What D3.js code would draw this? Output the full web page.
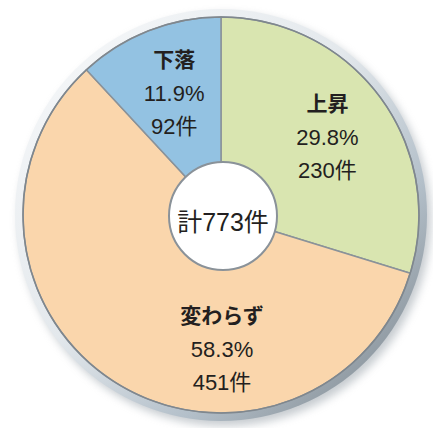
<!DOCTYPE html>
<html>
<head>
<meta charset="utf-8">
<script src="https://cdn.jsdelivr.net/npm/d3@7"></script>
<style>
  html, body { margin: 0; padding: 0; background: #fff; }
  svg { display: block; }
  text { font-family: "Liberation Sans", "Noto Sans CJK JP", sans-serif; fill: #231f20; }
</style>
</head>
<body>
<svg id="chart" width="433" height="428"></svg>
<script>
/* pie of price direction – 上昇 / 変わらず / 下落 */

const categories = ["上昇", "変わらず", "下落"];
const counts     = [230, 451, 92];
const percents   = ["29.8%", "58.3%", "11.9%"];
const totalLabel = "計773件";
const colors     = ["#d9e5b0", "#fad6ac", "#93c2e2"];

const svg = d3.select("#chart");
const cx = 221, cy = 215, R = 198, ringR = 206;

const data = categories.map((c, i) => ({ name: c, count: counts[i], pct: percents[i], color: colors[i] }));

/* -- defs: metallic rim + soft shadow ---------------------------------- */
const defs = svg.append("defs");
const rim = defs.append("linearGradient").attr("id", "rim")
  .attr("x1", 0).attr("y1", 0).attr("x2", 1).attr("y2", 1);
[["0%", "#fafbfc"], ["45%", "#e3e8ec"], ["70%", "#b4c0ca"], ["88%", "#8d979f"], ["100%", "#6c747b"]]
  .forEach(([o, c]) => rim.append("stop").attr("offset", o).attr("stop-color", c));

defs.append("filter").attr("id", "blur")
  .attr("x", "-20%").attr("y", "-20%").attr("width", "140%").attr("height", "140%")
  .append("feGaussianBlur").attr("stdDeviation", 4);

const g = svg.append("g").attr("transform", `translate(${cx},${cy})`);

// shadow under the rim, pushed to lower right
g.append("circle")
  .attr("cx", 4).attr("cy", 5).attr("r", ringR)
  .attr("fill", "#9aa3aa").attr("opacity", 0.55)
  .attr("filter", "url(#blur)");

g.append("circle")
  .attr("r", ringR)
  .attr("fill", "url(#rim)");

/* -- slices -------------------------------------------------------------- */
const pie = d3.pie().value(d => d.count).sort(null);
const arcs = pie(data);
const arc = d3.arc().innerRadius(0).outerRadius(R);

g.selectAll("path.slice")
  .data(arcs)
  .enter().append("path")
    .attr("class", "slice")
    .attr("d", arc)
    .attr("fill", d => d.data.color)
    .attr("stroke", "#8a9299")
    .attr("stroke-width", 1.5)
    .attr("stroke-linejoin", "round");

g.append("circle").attr("r", R)
  .attr("fill", "none").attr("stroke", "#7f878e").attr("stroke-width", 1.5);

/* -- centre hole --------------------------------------------------------- */
g.append("circle")
  .attr("cx", 2).attr("cy", 1).attr("r", 54)
  .attr("fill", "#fff").attr("stroke", "#8a9299").attr("stroke-width", 2);

g.append("text")
  .attr("x", 2).attr("y", 16)
  .attr("text-anchor", "middle")
  .attr("font-size", 25)
  .text(totalLabel);

/* -- labels ------------------------------------------------------------ */
// label angle: slice centroid, except the big slice which sits straight down
const labelAngle = d => d.data.name === "変わらず" ? Math.PI : (d.startAngle + d.endAngle) / 2;
const labelR = d => d.data.name === "変わらず" ? 134 : 131;

const labels = g.selectAll("g.label")
  .data(arcs)
  .enter().append("g")
    .attr("class", "label")
    .attr("transform", d => {
      const a = labelAngle(d), r = labelR(d);
      return `translate(${r * Math.sin(a) + 1},${-r * Math.cos(a)})`;
    })
    .attr("text-anchor", "middle");

labels.append("text")
  .attr("y", -26)
  .attr("font-size", 21)
  .attr("font-weight", "bold")
  .text(d => d.data.name);

labels.append("text")
  .attr("y", 8)
  .attr("font-size", 22)
  .text(d => d.data.pct);

labels.append("text")
  .attr("y", 41)
  .attr("font-size", 22)
  .text(d => d.data.count + "件");
</script>
</body>
</html>
